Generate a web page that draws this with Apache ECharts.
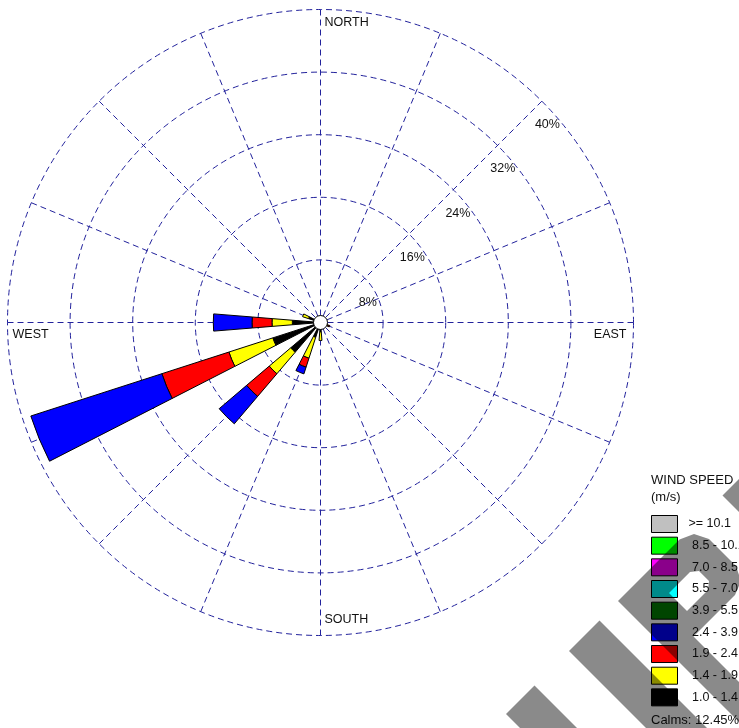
<!DOCTYPE html>
<html>
<head>
<meta charset="utf-8">
<script src="https://cdn.jsdelivr.net/npm/echarts@6/dist/echarts.min.js"></script>
<style>
  html, body { margin: 0; padding: 0; background: #ffffff; }
  #chart { width: 739px; height: 728px; }
</style>
</head>
<body>
<div id="chart"></div>
<script>
// Compass sectors, clockwise from north
const directions = ['N', 'NNE', 'NE', 'ENE', 'E', 'ESE', 'SE', 'SSE',
                    'S', 'SSW', 'SW', 'WSW', 'W', 'WNW', 'NW', 'NNW'];

// Wind speed classes (m/s), lowest first
const speedClasses = ['1.0 - 1.4', '1.4 - 1.9', '1.9 - 2.4', '2.4 - 3.9',
                      '3.9 - 5.5', '5.5 - 7.0', '7.0 - 8.5', '8.5 - 10.1', '>= 10.1'];

// Frequency of occurrence (%) per direction, one array per speed class
const freq_1_0_1_4  = [0, 0, 0, 0, 0, 0.8, 0, 0, 1.2, 2.0, 5.0, 6.4, 3.6, 1.6, 0, 0];
const freq_1_4_1_9  = [0, 0, 0, 0, 0, 0.25, 0, 0, 1.1, 2.8, 3.6, 5.9, 2.6, 0.8, 0, 0];
const freq_1_9_2_4  = [0, 0, 0, 0, 0, 0.2, 0, 0, 0, 1.2, 3.8, 9.0, 2.55, 0, 0, 0];
const freq_2_4_3_9  = [0, 0, 0, 0, 0, 0, 0, 0, 0, 0.9, 4.6, 17.6, 4.95, 0, 0, 0];
const freq_3_9_5_5  = [0, 0, 0, 0, 0, 0, 0, 0, 0, 0, 0, 0, 0, 0, 0, 0];
const freq_5_5_7_0  = [0, 0, 0, 0, 0, 0, 0, 0, 0, 0, 0, 0, 0, 0, 0, 0];
const freq_7_0_8_5  = [0, 0, 0, 0, 0, 0, 0, 0, 0, 0, 0, 0, 0, 0, 0, 0];
const freq_8_5_10_1 = [0, 0, 0, 0, 0, 0, 0, 0, 0, 0, 0, 0, 0, 0, 0, 0];
const freq_10_1     = [0, 0, 0, 0, 0, 0, 0, 0, 0, 0, 0, 0, 0, 0, 0, 0];

const calmsPercent = 12.45;

// Frequency rings (%)
const ringTicks = [8, 16, 24, 32, 40];

// Compass labels
const compassLabels = ['NORTH', 'EAST', 'SOUTH', 'WEST'];

// ---- layout & style ----
const CX = 320.5, CY = 322.5, R = 313;
const RMAX = 40;
const GRID_COLOR = '#22229c';
const GRID_DASH = [6, 4];
const FONT = '"Liberation Sans", Arial, sans-serif';
const TEXT_COLOR = '#111111';

const classFreqs = [freq_1_0_1_4, freq_1_4_1_9, freq_1_9_2_4, freq_2_4_3_9, freq_3_9_5_5,
                    freq_5_5_7_0, freq_7_0_8_5, freq_8_5_10_1, freq_10_1];
const classColors = ['#000000', '#FFFF00', '#FF0000', '#0000FF', '#008000',
                     '#00FFFF', '#FF00FF', '#00FF00', '#C0C0C0'];

const chart = echarts.init(document.getElementById('chart'), null, { renderer: 'canvas' });

const series = classFreqs.map((arr, i) => ({
  type: 'bar',
  name: speedClasses[i],
  coordinateSystem: 'polar',
  polarIndex: 1,
  stack: 'rose',
  barWidth: '41%',
  silent: true,
  data: arr.map(v => (v > 0 ? v : null)),
  itemStyle: { color: classColors[i], borderColor: '#000000', borderWidth: 1 }
}));

const graphics = [];
const textEl = (text, x, y, align, size) => ({
  type: 'text', z: 60, silent: true,
  style: {
    text: text, x: x, y: y, textAlign: align,
    textVerticalAlign: 'middle', verticalAlign: 'middle',
    font: size + 'px ' + FONT, fill: TEXT_COLOR
  }
});

// Compass direction labels
graphics.push(
  textEl(compassLabels[0], CX + 4, CY - R + 13, 'left', 12.5),
  textEl(compassLabels[1], CX + R - 7, CY + 12, 'right', 12.5),
  textEl(compassLabels[2], CX + 4, CY + R - 16, 'left', 12.5),
  textEl(compassLabels[3], CX - R + 5, CY + 12, 'left', 12.5)
);

// Ring percentage labels, right edge resting on each ring
ringTicks.forEach((t, k) => {
  const r = R * t / RMAX;
  const dy = 20 + 44.5 * k;
  graphics.push(textEl(t + '%', CX + Math.sqrt(r * r - dy * dy) - 3, CY - dy, 'right', 12.5));
});

// Calm circle at the hub
graphics.push({
  type: 'circle', z: 50, silent: true,
  shape: { cx: CX, cy: CY, r: 7 },
  style: { fill: '#ffffff', stroke: '#000000', lineWidth: 1 }
});

// Legend heading and calms note
graphics.push(
  textEl('WIND SPEED', 651, 480, 'left', 13),
  textEl('(m/s)', 651, 497, 'left', 13),
  textEl('Calms: ' + calmsPercent.toFixed(2) + '%', 651, 720, 'left', 13)
);

// Diagonal grey overprint in the lower right, laid out in rotated (s = x+y, d = x-y) coordinates
const toXY = ([s, d]) => [(s + d) / 2, (s - d) / 2];
const overprintShapes = [
  [[1220, -208], [1220, -151], [1520, -151], [1520, -208]],
  [[1220, -82], [1220, -21], [1520, -21], [1520, -82]],
  [[1218, 227], [1218, 420], [1520, 420], [1520, 227]],
  // glyph with a bowl; its counter is cut out through a zero-width bridge
  [[1219, 17], [1219, 97], [1262, 97], [1262, 76], [1298, 76], [1298, 118], [1290, 128],
   [1270, 128], [1262, 118], [1262, 97], [1219, 97], [1219, 140], [1228, 160], [1248, 170],
   [1302, 170], [1322, 160], [1330, 140], [1330, 57], [1520, 57], [1520, 17]]
];
overprintShapes.forEach(poly => {
  graphics.push({
    type: 'polygon', z: 100, silent: true,
    shape: { points: poly.map(toXY) },
    style: { fill: '#8a8a8a', blend: 'multiply' }
  });
});

const option = {
  animation: false,
  backgroundColor: '#ffffff',
  polar: [
    { center: [CX, CY], radius: R },
    { center: [CX, CY], radius: R }
  ],
  angleAxis: [
    {
      polarIndex: 0, type: 'value', min: 0, max: 360, interval: 22.5,
      startAngle: 90, clockwise: true,
      axisLine: { show: false },
      axisTick: { show: false },
      axisLabel: { show: false },
      splitLine: { show: true, lineStyle: { color: GRID_COLOR, width: 1, type: GRID_DASH } }
    },
    {
      polarIndex: 1, type: 'category', data: directions,
      startAngle: 90 + 180 / directions.length, clockwise: true,
      axisLine: { show: false },
      axisTick: { show: false },
      axisLabel: { show: false },
      splitLine: { show: false }
    }
  ],
  radiusAxis: [
    {
      polarIndex: 0, type: 'value', min: 0, max: RMAX, interval: ringTicks[0],
      axisLine: { show: false },
      axisTick: { show: false },
      axisLabel: { show: false },
      splitLine: { show: true, lineStyle: { color: GRID_COLOR, width: 1, type: GRID_DASH } }
    },
    {
      polarIndex: 1, type: 'value', min: 0, max: RMAX,
      axisLine: { show: false },
      axisTick: { show: false },
      axisLabel: { show: false },
      splitLine: { show: false }
    }
  ],
  legend: {
    orient: 'vertical',
    left: 651, top: 515,
    padding: 0,
    itemWidth: 26, itemHeight: 17, itemGap: 3.67,
    icon: 'rect',
    selectedMode: false,
    data: speedClasses.slice().reverse(),
    formatter: name => (name.startsWith('>=') ? name : ' ' + name),
    itemStyle: { borderColor: '#000000', borderWidth: 1 },
    textStyle: { fontFamily: FONT, fontSize: 12.5, color: TEXT_COLOR, padding: [0, 0, 0, 6] }
  },
  graphic: { elements: graphics },
  series: series
};

chart.setOption(option);
</script>
</body>
</html>
